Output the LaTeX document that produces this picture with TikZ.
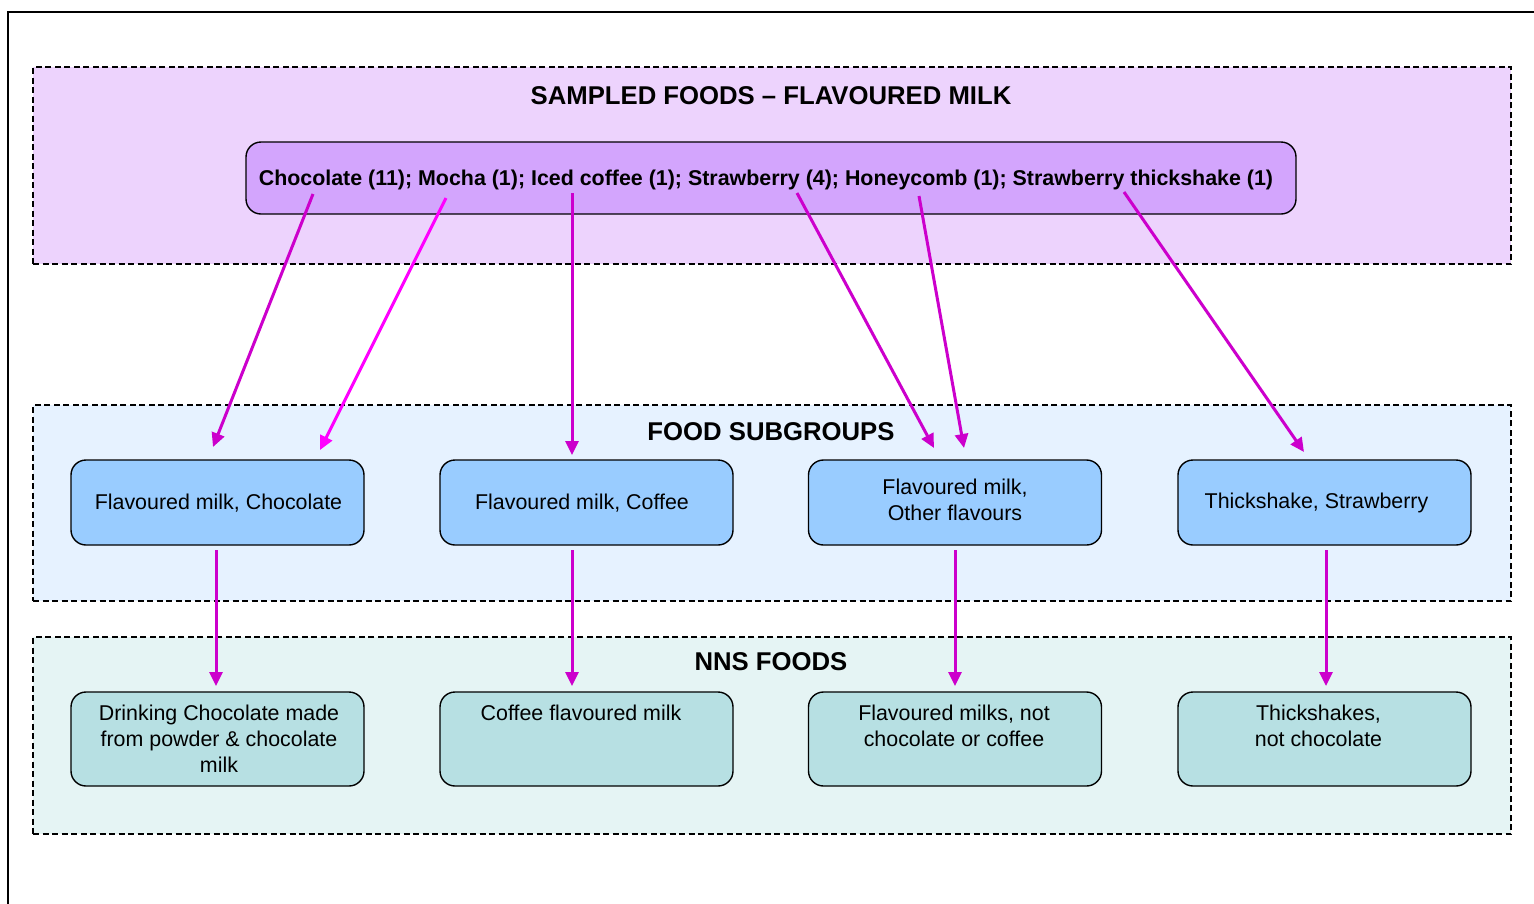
\documentclass[tikz,border=0pt]{standalone}
\usepackage{fontspec}
\setmainfont{Liberation Sans}
\usetikzlibrary{arrows.meta}
\definecolor{sampbg}{HTML}{EDD3FD}
\definecolor{topfill}{HTML}{D3A5FD}
\definecolor{subbg}{HTML}{E6F2FF}
\definecolor{subfill}{HTML}{99CCFF}
\definecolor{nnsbg}{HTML}{E5F4F4}
\definecolor{nnsfill}{HTML}{B7E0E3}
\definecolor{arrdark}{HTML}{CC00CC}
\definecolor{arrbright}{HTML}{FF00FF}
\tikzset{
  groupbox/.style={draw=black, line width=1.4pt, dash pattern=on 6pt off 3.5pt, inner sep=0pt, outer sep=0pt, minimum width=1478pt},
  grouptitle/.style={font=\fontsize{25.7}{30}\selectfont\bfseries, inner sep=0pt},
  boxnode/.style={draw=black, line width=1.4pt, rounded corners=15pt, inner sep=0pt, outer sep=0pt, minimum width=293pt},
  subnode/.style={boxnode, fill=subfill, minimum height=85pt},
  nnsnode/.style={boxnode, fill=nnsfill, minimum height=94pt},
  boxtext/.style={align=center, font=\fontsize{21.4}{26}\selectfont, inner sep=0pt},
  nnstext/.style={boxtext, anchor=north},
  flow/.style={line width=3pt, arrdark, -{Triangle[length=14pt,width=13pt]}},
}
\begin{document}
\begin{tikzpicture}[x=1pt,y=-1pt]
\useasboundingbox (0,0) rectangle (1534,903);
\clip (0,0) rectangle (1534,903);
\fill[white] (0,0) rectangle (1534,903);
\draw[line width=2pt] (8,12) rectangle (1570,940);

% group areas
\node[groupbox, fill=sampbg, minimum height=197pt] (gsamp) at (772,165.5) {};
\node[groupbox, fill=subbg, minimum height=196pt] (gsub) at (772,503) {};
\node[groupbox, fill=nnsbg, minimum height=197pt] (gnns) at (772,735.5) {};
\node[grouptitle] (tsamp) at (771,96) {SAMPLED FOODS – FLAVOURED MILK};
\node[grouptitle] (tsub) at (771,432) {FOOD SUBGROUPS};
\node[grouptitle] (tnns) at (771,662) {NNS FOODS};

% top node
\node[boxnode, fill=topfill, minimum width=1050pt, minimum height=72pt] (top) at (771,178) {};
\node[boxtext, font=\fontsize{21.4}{26}\selectfont\bfseries] (topt) at (766,180) {Chocolate (11); Mocha (1); Iced coffee (1); Strawberry (4); Honeycomb (1); Strawberry thickshake (1)};

% subgroups
\node[subnode] (s1) at (217.5,502.5) {};
\node[subnode] (s2) at (586.5,502.5) {};
\node[subnode] (s3) at (955,502.5) {};
\node[subnode] (s4) at (1324.5,502.5) {};
\node[boxtext] (s1t) at (218.5,503) {Flavoured milk, Chocolate};
\node[boxtext] (s2t) at (582,503) {Flavoured milk, Coffee};
\node[boxtext] (s3t) at (955,499.5) {Flavoured milk,\\Other flavours};
\node[boxtext] (s4t) at (1316.5,503) {Thickshake, Strawberry};

% NNS foods
\node[nnsnode] (n1) at (217.5,739) {};
\node[nnsnode] (n2) at (586.5,739) {};
\node[nnsnode] (n3) at (955,739) {};
\node[nnsnode] (n4) at (1324.5,739) {};
\node[nnstext] (n1t) at ([xshift=1.5pt,yshift=-13pt]n1.north) {Drinking Chocolate made\\from powder \& chocolate\\milk};
\node[nnstext] (n2t) at ([xshift=-5.5pt,yshift=-13pt]n2.north) {Coffee flavoured milk};
\node[nnstext] (n3t) at ([xshift=-1pt,yshift=-13pt]n3.north) {Flavoured milks, not\\chocolate or coffee};
\node[nnstext] (n4t) at ([xshift=-6pt,yshift=-13pt]n4.north) {Thickshakes,\\not chocolate};

% arrow end points
\coordinate (a1s) at (313,194);  \coordinate (a1e) at (213,447);
\coordinate (a2s) at (446,198);  \coordinate (a2e) at (320,450);
\coordinate (a3s) at (572,193);  \coordinate (a3e) at (572,455);
\coordinate (a4s) at (797,193);  \coordinate (a4e) at (934,448);
\coordinate (a5s) at (919,196);  \coordinate (a5e) at (964,448);
\coordinate (a6s) at (1124,192); \coordinate (a6e) at (1304,452);
\coordinate (b1s) at (216,550);  \coordinate (b1e) at (216,686);
\coordinate (b2s) at (572,550);  \coordinate (b2e) at (572,686);
\coordinate (b3s) at (955,550);  \coordinate (b3e) at (955,686);
\coordinate (b4s) at (1326,550); \coordinate (b4e) at (1326,686);

\draw[flow] (a1s) -- (a1e);
\draw[flow, arrbright] (a2s) -- (a2e);
\draw[flow] (a3s) -- (a3e);
\draw[flow] (a4s) -- (a4e);
\draw[flow] (a5s) -- (a5e);
\draw[flow] (a6s) -- (a6e);
\draw[flow] (b1s) -- (b1e);
\draw[flow] (b2s) -- (b2e);
\draw[flow] (b3s) -- (b3e);
\draw[flow] (b4s) -- (b4e);
\end{tikzpicture}
\end{document}
